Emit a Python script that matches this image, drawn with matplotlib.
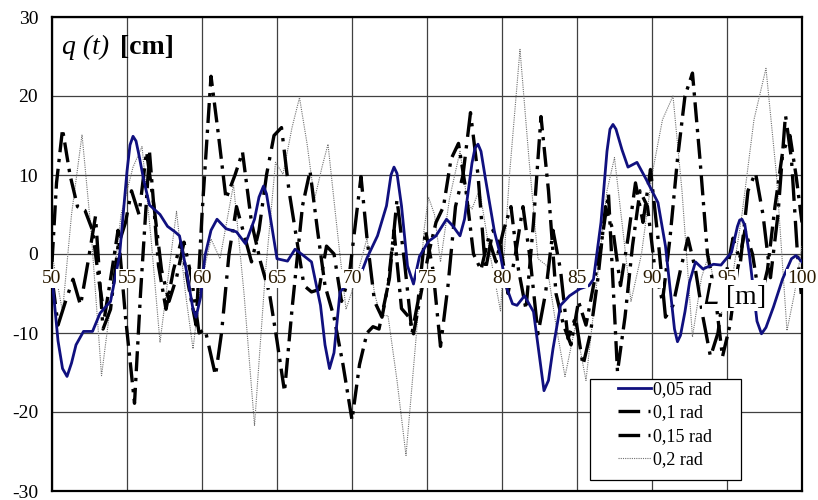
import matplotlib
matplotlib.use("Agg")
import matplotlib.pyplot as plt
from matplotlib.patches import Rectangle
from matplotlib.lines import Line2D

# 0,05 rad
x_005 = [50.0, 50.4, 50.7, 51.0, 51.3, 51.6, 52.1, 52.7, 53.2, 53.9, 54.5, 55.0, 55.2, 55.4,
         55.6, 55.8, 56.1, 56.5, 57.2, 57.7, 58.2, 58.5, 59.0, 59.4, 59.6, 59.9, 60.2, 60.6,
         61.0, 61.6, 62.3, 62.9, 63.5, 63.8, 64.1, 64.3, 64.5, 65.0, 65.7, 66.2, 66.7, 67.3,
         67.9, 68.2, 68.5, 68.8, 69.2, 69.7, 70.2, 70.7, 71.0, 71.7, 72.3, 72.6, 72.8, 73.0,
         73.3, 73.7, 74.1, 74.5, 75.1, 75.6, 76.3, 76.7, 77.2, 77.5, 78.0, 78.2, 78.4, 78.6,
         78.9, 79.5, 79.9, 80.3, 80.7, 81.0, 81.5, 82.1, 82.5, 82.8, 83.1, 83.4, 83.9, 84.5,
         85.2, 85.8, 86.1, 86.6, 87.0, 87.2, 87.4, 87.6, 88.0, 88.4, 89.0, 89.6, 90.4, 90.9,
         91.3, 91.5, 91.7, 91.9, 92.2, 92.5, 92.9, 93.4, 94.1, 94.6, 95.3, 95.7, 95.85, 96.0,
         96.2, 96.5, 97.0, 97.3, 97.6, 98.1, 98.7, 99.3, 99.6, 100.0]
y_005 = [-3.0, -11.0, -14.5, -15.5, -13.8, -11.5, -9.8, -9.8, -7.5, -6.0, -0.2, 10.5, 13.8, 14.9,
         14.3, 12.5, 9.5, 6.2, 5.0, 3.5, 2.8, 2.3, -2.5, -7.0, -8.0, -5.5, -0.2, 3.0,
         4.4, 3.2, 2.8, 1.3, 4.4, 7.2, 8.6, 7.6, 5.3, -0.6, -0.9, 0.6, -0.1, -1.0,
         -6.5, -11.5, -14.5, -12.5, -4.8, -3.8, -3.0, -2.0, -0.5, 2.3, 6.1, 10.0, 11.0, 10.2,
         6.1, -1.5, -3.8, -0.3, 1.6, 2.3, 4.4, 3.6, 2.3, 4.4, 11.5, 13.4, 13.9, 13.0,
         9.5, 2.8, -0.2, -4.2, -6.3, -6.5, -5.3, -7.3, -13.0, -17.3, -16.0, -12.0, -6.5, -5.3,
         -4.4, -4.0, -3.2, 4.0, 13.0, 15.8, 16.4, 15.8, 13.2, 11.0, 11.6, 9.5, 6.5, 1.0,
         -6.0, -9.5, -11.1, -10.3, -7.3, -3.6, -1.0, -1.9, -1.3, -1.4, 0.2, 3.5, 4.3, 4.4,
         3.6, -0.2, -8.5, -10.1, -9.3, -6.7, -3.2, -0.6, -0.2, -1.0]

# 0,1 rad
x_01 = [50.0, 50.4, 50.9, 51.4, 51.9, 52.4, 52.9, 53.4, 53.9, 54.4, 54.9, 55.3, 55.8, 56.3,
        56.8, 57.3, 57.8, 58.3, 58.8, 59.3, 59.8, 60.2, 60.5, 60.9, 61.3, 61.8, 62.3, 62.8,
        63.3, 63.8, 64.3, 64.8, 65.3, 65.8, 66.3, 66.8, 67.3, 67.8, 68.3, 68.8, 69.3, 69.8,
        70.3, 70.6, 71.0, 71.5, 72.0, 72.5, 73.0, 73.5, 74.0, 74.4, 74.9, 75.4, 75.9, 76.4,
        76.9, 77.4, 77.9, 78.4, 78.9, 79.4, 79.9, 80.4, 80.9, 81.4, 81.9, 82.4, 82.9, 83.4,
        83.9, 84.4, 84.9, 85.4, 85.9, 86.4, 86.9, 87.4, 87.9, 88.4, 88.9, 89.4, 89.9, 90.4,
        90.9, 91.4, 91.9, 92.4, 92.9, 93.4, 93.9, 94.4, 94.9, 95.4, 95.9, 96.4, 96.9, 97.4,
        97.9, 98.4, 98.9, 99.3, 99.7, 100.0]
y_01 = [-3.0, -9.0, -6.0, -3.2, -6.5, -1.0, 4.8, -9.5, -7.0, 1.0, 4.0, 8.0, 5.0, 13.0,
        6.0, -2.0, -6.0, -3.0, 1.5, -3.0, -10.0, -9.5, -12.0, -15.4, -10.0, 0.0, 6.0, 2.5,
        -1.0, 3.0, 10.0, 15.0, 16.0, 8.0, 2.0, -4.0, -4.8, -4.5, 1.0, 0.0, -6.0, -3.0,
        5.0, 9.8, 2.0, -6.0, -8.0, -3.0, 6.9, -1.0, -10.0, -6.0, 3.0, -2.0, -11.7, -4.0,
        6.0, 10.0, 17.9, 10.0, -2.0, 3.0, 1.0, -5.0, 0.0, 6.0, -1.0, -10.1, -5.0, 3.0,
        -2.0, -10.7, -8.0, -14.1, -10.0, -3.0, 6.0, 3.0, -4.0, 2.0, 9.0, 4.0, 10.7, 2.0,
        -8.0, -6.5, -2.0, 2.0, -2.0, -8.0, -13.0, -10.0, -3.0, 2.0, -1.0, 8.0, 10.3, 5.0,
        -3.0, 5.0, 17.6, 12.0, 0.0, -6.0]

# 0,15 rad
x_015 = [50.0, 50.3, 50.7, 51.2, 51.7, 52.2, 52.7, 53.1, 53.5, 54.0, 54.4, 54.9, 55.5, 55.9,
         56.5, 57.1, 57.6, 58.1, 58.6, 59.1, 59.6, 60.0, 60.6, 61.1, 61.6, 62.2, 62.7, 63.3,
         63.9, 64.5, 65.0, 65.5, 66.0, 66.7, 67.2, 67.7, 68.2, 68.8, 69.4, 70.0, 70.5, 71.0,
         71.4, 71.8, 72.4, 72.8, 73.3, 73.8, 74.1, 74.6, 75.1, 75.6, 76.1, 76.6, 77.1, 77.6,
         78.1, 78.6, 79.1, 79.6, 80.1, 80.6, 81.1, 81.6, 82.1, 82.6, 83.1, 83.6, 84.1, 84.6,
         85.1, 85.6, 86.1, 86.6, 87.1, 87.7, 88.2, 88.7, 89.2, 89.7, 90.2, 90.7, 91.2, 91.7,
         92.2, 92.7, 93.2, 93.7, 94.2, 94.7, 95.2, 95.7, 96.2, 96.7, 97.2, 97.7, 98.2, 98.7,
         99.2, 99.6, 100.0]
y_015 = [-1.0, 9.0, 15.8, 10.0, 6.0, 5.5, 3.0, -3.0, -8.0, -2.0, 3.0, -8.0, -18.9, -5.0,
         12.9, -1.5, -7.0, -2.0, 1.5, -4.0, -9.0, 5.0, 22.5, 15.0, 7.0, 10.0, 12.9, 4.0,
         -1.0, -5.0, -11.0, -17.4, -7.0, 6.1, 10.5, 3.0, -4.0, -8.0, -14.0, -21.0, -14.0, -10.0,
         -9.2, -9.5, -4.0, 3.0, -6.9, -8.0, -10.1, -5.0, 0.0, 4.0, 6.0, 12.0, 14.0, 8.0,
         0.0, -2.0, 2.0, -1.0, 3.0, 6.0, -2.0, -7.0, 4.0, 17.4, 8.0, -5.0, -9.0, -11.5,
         -6.0, -9.0, -4.0, 1.0, 7.6, -14.9, -8.0, 1.0, 8.0, 6.0, -2.0, -6.0, 2.0, 12.0,
         20.0, 22.9, 12.0, 0.0, -5.0, -13.0, -9.0, -2.0, 3.0, 0.0, -6.0, -2.0, 6.0, 12.8,
         15.0, 10.0, 4.0]

# 0,2 rad
x_02 = [50.0, 50.7, 51.3, 52.0, 52.6, 53.3, 54.0, 54.6, 55.4, 56.0, 56.6, 57.2, 57.8, 58.3,
        58.9, 59.4, 59.9, 60.6, 61.2, 62.1, 62.8, 63.5, 64.2, 64.9, 65.4, 66.0, 66.5, 67.0,
        67.5, 68.0, 68.4, 68.9, 69.6, 70.3, 71.0, 71.5, 71.9, 72.4, 73.0, 73.6, 74.3, 74.8,
        75.1, 75.5, 75.9, 76.5, 77.2, 77.7, 78.0, 78.5, 79.2, 79.9, 80.5, 81.2, 81.8, 82.4,
        83.0, 83.6, 84.2, 84.9, 85.6, 86.4, 87.0, 87.5, 88.0, 88.6, 89.3, 90.0, 90.7, 91.4,
        92.0, 92.7, 93.3, 93.8, 94.5, 95.2, 96.0, 96.8, 97.6, 98.3, 99.0, 99.5, 100.0]
y_02 = [0.0, -7.3, 5.0, 15.1, 3.0, -15.4, -5.0, 5.0, 11.0, 13.6, 2.0, -11.2, -2.0, 5.4,
        -5.0, -12.0, -4.0, 1.9, -0.6, 8.8, -5.0, -21.7, -3.0, 11.6, 10.1, 16.0, 19.8, 14.0,
        6.9, 11.0, 13.9, 5.0, -7.0, -3.0, 2.0, -5.0, -7.8, -7.8, -16.0, -25.5, -10.0, 3.0,
        7.2, 5.0, -1.0, 7.0, 13.0, 6.5, 5.7, 8.2, 0.0, -7.2, 10.0, 25.9, 12.0, -0.6,
        -1.5, -9.0, -15.5, -9.0, -16.0, -2.3, 8.0, 12.2, 4.0, -6.0, 0.0, 10.0, 17.0, 20.0,
        8.0, -10.5, -3.0, 0.0, -8.0, -5.0, 5.0, 17.0, 23.5, 10.0, -9.7, -5.0, 1.0]

labels = ['0,05 rad', '0,1 rad', '0,15 rad', '0,2 rad']
x_ticks = [50, 55, 60, 65, 70, 75, 80, 85, 90, 95, 100]
y_ticks = [-30, -20, -10, 0, 10, 20, 30]

plt.rcParams['font.family'] = ['Liberation Serif', 'DejaVu Serif']

fig = plt.figure(figsize=(8.18, 5.0), dpi=100)
ax = fig.add_axes([0.0636, 0.018, 0.9168, 0.948])

ax.plot(x_005, y_005, color='#10107f', lw=2.0, zorder=5)
ax.plot(x_01, y_01, color='black', lw=2.4, dashes=(8, 2.5, 1, 2.5), zorder=4)
ax.plot(x_015, y_015, color='black', lw=2.4, dashes=(6, 2, 1, 2), zorder=4)
ax.plot(x_02, y_02, color='#707070', lw=0.8, ls=(0, (1, 1)), zorder=3)

ax.set_xlim(50, 100)
ax.set_ylim(-30, 30)
ax.set_xticks(x_ticks)
ax.set_yticks(y_ticks)
ax.set_xticklabels([])
ax.set_yticklabels([str(v) for v in y_ticks], fontsize=14)
ax.tick_params(axis='both', length=0, pad=10)
ax.grid(True, color='#404040', lw=0.9)
ax.set_axisbelow(True)
for s in ax.spines.values():
    s.set_linewidth(1.6)

# x tick labels sit just under the zero line inside the plot
for v in x_ticks:
    ax.text(v, -3.1, str(v), ha='center', va='center', fontsize=14, color='#2a1a00',
            bbox=dict(facecolor='white', edgecolor='none', pad=0.8), zorder=6)

ax.text(95.5, -3.4, r'$\it{L}$ [m]', fontsize=20, ha='center', va='top',
        bbox=dict(facecolor='white', edgecolor='none', pad=0.5), zorder=7)
ax.text(50.65, 26.1, 'q (t)', fontsize=20, style='italic', ha='left', va='center', zorder=6)
ax.text(54.55, 26.1, '[cm]', fontsize=20, fontweight='bold', ha='left', va='center', zorder=6)

# legend: white framed box, short "dash + dot" keys like the original
handles = [
    Line2D([], [], color='#10107f', lw=2.0),
    Line2D([], [], color='black', lw=2.4, dashes=(6.5, 2.5, 0.6, 3)),
    Line2D([], [], color='black', lw=2.4, dashes=(6.5, 2.5, 0.6, 3)),
    Line2D([], [], color='#707070', lw=0.8, ls=(0, (1, 1))),
]
ax.add_patch(Rectangle((0.7173, 0.0232), 0.2014, 0.2126, transform=ax.transAxes,
                       facecolor='white', edgecolor='black', lw=0.9, zorder=9))
leg = ax.legend(handles, labels, loc='upper left', bbox_to_anchor=(0.7547, 0.232), fontsize=13,
                frameon=False, handlelength=1.83, borderpad=0.0, borderaxespad=0.0,
                labelspacing=0.36, handletextpad=0.1)
leg.set_zorder(10)

fig.savefig('out.png', dpi=100, facecolor='white')
plt.close(fig)
